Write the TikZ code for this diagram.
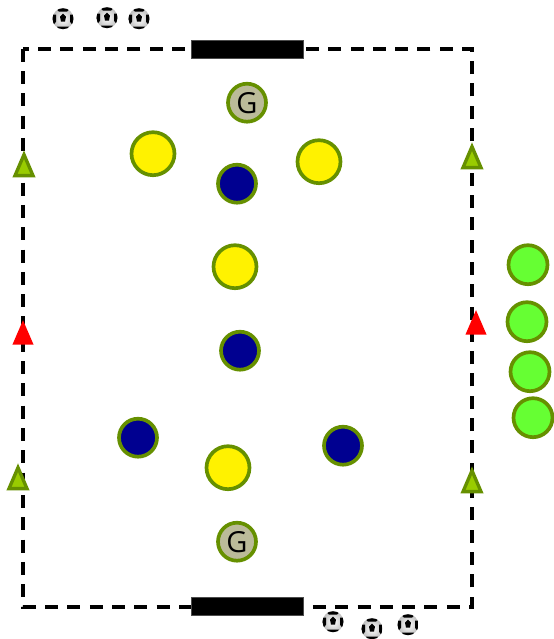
\documentclass[tikz,border=0pt]{standalone}
\usepackage{fontspec}
\usepackage{tikz}
\usetikzlibrary{shapes.geometric}
\setmainfont{Open Sans}
\definecolor{rimgreen}{HTML}{669000}
\definecolor{conegreen}{HTML}{99CC00}
\definecolor{keeper}{HTML}{BBBB99}
\definecolor{limegreen}{HTML}{66FF33}
\definecolor{navyblue}{HTML}{000090}

\begin{document}
\begin{tikzpicture}[
  x=0.02cm, y=-0.02cm,
  player/.style={circle, draw=rimgreen, line width=2.1pt, inner sep=0pt, minimum size=0.76cm},
  attacker/.style={player, fill=yellow, minimum size=0.86cm},
  defender/.style={player, fill=navyblue},
  spare/.style={player, fill=limegreen, minimum size=0.78cm},
  goalie/.style={player, fill=keeper, font=\fontsize{16.5}{18}\selectfont},
  cone/.style={isosceles triangle, isosceles triangle apex angle=50, shape border rotate=90,
    isosceles triangle stretches, draw=rimgreen, fill=conegreen, line width=1.9pt, inner sep=0pt,
    minimum width=0.36cm, minimum height=0.42cm},
  redcone/.style={cone, draw=red, fill=red, line width=0.8pt, minimum width=0.38cm, minimum height=0.44cm},
  goal/.style={draw=black!70, fill=black, line width=0.4pt, inner sep=0pt, minimum width=2.24cm, minimum height=0.36cm},
  ball/.style={circle, inner sep=0pt, minimum size=0.42cm, inner color=white, outer color=black!25,
    path picture={
      \begin{scope}[shift={(path picture bounding box.center)}]
        \fill (-3,-2) -- (0,-5) -- (3,-2) -- (2,3) -- (-2,3) -- cycle;
        \fill (-7,-10) -- (0,-11) -- (7,-10) -- (4,-7) -- (-4,-7) -- cycle;
        \fill (-11,-4) -- (-7,-4) -- (-7,3) -- (-10,7) -- cycle;
        \fill (11,-4) -- (7,-4) -- (7,3) -- (10,7) -- cycle;
        \fill (-6,8) -- (6,8) -- (4,11) -- (-4,11) -- cycle;
      \end{scope}}},
  pitch/.style={line width=2.2pt, dash pattern=on 7.4pt off 5.3pt}
]
\useasboundingbox (0,-0.7) rectangle (554,638.3);

% Pitch and goals
\coordinate (nw) at (23,48);
\coordinate (se) at (472,606);
\draw[pitch] (nw) rectangle (se);
\node[goal] (goal-top) at (247,49) {};
\node[goal] (goal-bottom) at (247,606) {};

% Goalkeepers
\node[goalie] (gk-top) at (247,102) {G};
\node[goalie] (gk-bottom) at (237,541) {G};

% Yellow team
\node[attacker] (yl-left) at (153,153) {};
\node[attacker] (yl-right) at (319,161) {};
\node[attacker] (yl-mid) at (235,266) {};
\node[attacker] (yl-low) at (228,467) {};

% Blue team
\node[defender] (bl-top) at (237,183) {};
\node[defender] (bl-mid) at (240,350) {};
\node[defender] (bl-left) at (138,437) {};
\node[defender] (bl-right) at (343,445) {};

% Waiting players
\node[spare] (sp-a) at (528,264) {};
\node[spare] (sp-b) at (527,321) {};
\node[spare] (sp-c) at (530,371) {};
\node[spare] (sp-d) at (533,417) {};

% Cones
\node[cone] (cn-lt) at (24,169) {};
\node[cone] (cn-rt) at (472,161) {};
\node[cone] (cn-lb) at (18,482) {};
\node[cone] (cn-rb) at (472,485) {};
\node[redcone] (cn-lm) at (23,337) {};
\node[redcone] (cn-rm) at (476,327) {};

% Balls
\node[ball] (ball-a) at (63,18) {};
\node[ball] (ball-b) at (107,17) {};
\node[ball] (ball-c) at (139,18) {};
\node[ball] (ball-d) at (333,621) {};
\node[ball] (ball-e) at (372,628) {};
\node[ball] (ball-f) at (408,624) {};
\end{tikzpicture}
\end{document}
